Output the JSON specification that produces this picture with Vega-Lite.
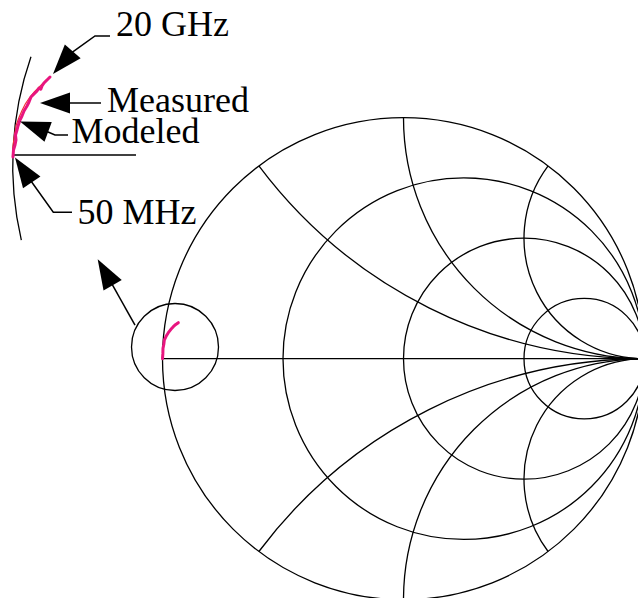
{
  "$schema": "https://vega.github.io/schema/vega-lite/v6.json",
  "width": 638,
  "height": 598,
  "autosize": {"type": "none"},
  "padding": 0,
  "background": "white",
  "config": {"view": {"stroke": null}},
  "datasets": {
    "grid": [
      {"name": "r=0", "cx": 0, "cy": 0, "r": 1, "t0": 0, "t1": 360},
      {"name": "r=1/3", "cx": 0.25, "cy": 0, "r": 0.75, "t0": 0, "t1": 360},
      {"name": "r=1", "cx": 0.5, "cy": 0, "r": 0.5, "t0": 0, "t1": 360},
      {"name": "r=3", "cx": 0.75, "cy": 0, "r": 0.25, "t0": 0, "t1": 360},
      {"name": "x=0.5", "cx": 1, "cy": 2, "r": 2, "t0": 180, "t1": 233.13},
      {"name": "x=-0.5", "cx": 1, "cy": -2, "r": 2, "t0": -53.13, "t1": 0},
      {"name": "x=1", "cx": 1, "cy": 1, "r": 1, "t0": 180, "t1": 270},
      {"name": "x=-1", "cx": 1, "cy": -1, "r": 1, "t0": -90, "t1": 0},
      {"name": "x=2", "cx": 1, "cy": 0.5, "r": 0.5, "t0": 180, "t1": 306.87},
      {"name": "x=-2", "cx": 1, "cy": -0.5, "r": 0.5, "t0": -126.87, "t1": 0},
      {"name": "inset", "cx": -0.9481, "cy": 0.0485, "r": 0.1805, "t0": 0, "t1": 360},
      {"name": "enlarged r=0", "cx": -0.2523, "cy": 0.8037, "r": 1.3693, "t0": -103.14, "t1": -70.84}
    ],
    "axisline": [
      {"x": -1, "x2": 1, "y": 0},
      {"x": -1.6216, "x2": -1.11, "y": 0.8452}
    ],
    "curves": [
      {"view": "main", "series": "Measured", "x": -1.0, "y": 0.0},
      {"view": "main", "series": "Measured", "x": -0.9985, "y": 0.02},
      {"view": "main", "series": "Measured", "x": -0.998, "y": 0.043},
      {"view": "main", "series": "Measured", "x": -0.9945, "y": 0.06},
      {"view": "main", "series": "Measured", "x": -0.9925, "y": 0.0776},
      {"view": "main", "series": "Measured", "x": -0.985, "y": 0.093},
      {"view": "main", "series": "Measured", "x": -0.9759, "y": 0.1079},
      {"view": "main", "series": "Measured", "x": -0.966, "y": 0.121},
      {"view": "main", "series": "Measured", "x": -0.9552, "y": 0.1328},
      {"view": "main", "series": "Measured", "x": -0.945, "y": 0.142},
      {"view": "main", "series": "Measured", "x": -0.9344, "y": 0.1494},
      {"view": "main", "series": "Modeled", "x": -1.0, "y": 0.0},
      {"view": "main", "series": "Modeled", "x": -0.998, "y": 0.04},
      {"view": "main", "series": "Modeled", "x": -0.993, "y": 0.075},
      {"view": "main", "series": "Modeled", "x": -0.977, "y": 0.106},
      {"view": "main", "series": "Modeled", "x": -0.956, "y": 0.131},
      {"view": "main", "series": "Modeled", "x": -0.935, "y": 0.148},
      {"view": "zoom", "series": "Measured", "x": -1.6203, "y": 0.8369},
      {"view": "zoom", "series": "Measured", "x": -1.6183, "y": 0.866},
      {"view": "zoom", "series": "Measured", "x": -1.612, "y": 0.8867},
      {"view": "zoom", "series": "Measured", "x": -1.6079, "y": 0.9075},
      {"view": "zoom", "series": "Measured", "x": -1.61, "y": 0.9282},
      {"view": "zoom", "series": "Measured", "x": -1.6037, "y": 0.949},
      {"view": "zoom", "series": "Measured", "x": -1.5996, "y": 0.9656},
      {"view": "zoom", "series": "Measured", "x": -1.5913, "y": 0.9905},
      {"view": "zoom", "series": "Measured", "x": -1.583, "y": 1.0071},
      {"view": "zoom", "series": "Measured", "x": -1.5747, "y": 1.0278},
      {"view": "zoom", "series": "Measured", "x": -1.5622, "y": 1.0485},
      {"view": "zoom", "series": "Measured", "x": -1.5539, "y": 1.0651},
      {"view": "zoom", "series": "Measured", "x": -1.5456, "y": 1.0859},
      {"view": "zoom", "series": "Measured", "x": -1.5332, "y": 1.0983},
      {"view": "zoom", "series": "Measured", "x": -1.5207, "y": 1.1108},
      {"view": "zoom", "series": "Measured", "x": -1.5124, "y": 1.1232},
      {"view": "zoom", "series": "Measured", "x": -1.505, "y": 1.118},
      {"view": "zoom", "series": "Measured", "x": -1.5, "y": 1.1315},
      {"view": "zoom", "series": "Measured", "x": -1.4917, "y": 1.144},
      {"view": "zoom", "series": "Measured", "x": -1.4834, "y": 1.1523},
      {"view": "zoom", "series": "Measured", "x": -1.4751, "y": 1.1606},
      {"view": "zoom", "series": "Measured", "x": -1.4668, "y": 1.1689},
      {"view": "zoom", "series": "Modeled", "x": -1.6226, "y": 0.8369},
      {"view": "zoom", "series": "Modeled", "x": -1.6203, "y": 0.8826},
      {"view": "zoom", "series": "Modeled", "x": -1.6145, "y": 0.9282},
      {"view": "zoom", "series": "Modeled", "x": -1.6067, "y": 0.9697},
      {"view": "zoom", "series": "Modeled", "x": -1.5964, "y": 0.9988},
      {"view": "zoom", "series": "Modeled", "x": -1.5839, "y": 1.0278},
      {"view": "zoom", "series": "Modeled", "x": -1.5694, "y": 1.0568},
      {"view": "zoom", "series": "Modeled", "x": -1.5528, "y": 1.0817},
      {"view": "zoom", "series": "Modeled", "x": -1.532, "y": 1.1066},
      {"view": "zoom", "series": "Modeled", "x": -1.5071, "y": 1.1315},
      {"view": "zoom", "series": "Modeled", "x": -1.4823, "y": 1.1564}
    ],
    "leaders": [
      {"leader": "20 GHz", "x": -1.2178, "y": 1.339},
      {"leader": "20 GHz", "x": -1.2801, "y": 1.339},
      {"leader": "20 GHz", "x": -1.378, "y": 1.2689},
      {"leader": "Measured", "x": -1.2552, "y": 1.061},
      {"leader": "Measured", "x": -1.3838, "y": 1.061},
      {"leader": "Modeled", "x": -1.3921, "y": 0.9282},
      {"leader": "Modeled", "x": -1.4461, "y": 0.9282},
      {"leader": "Modeled", "x": -1.4822, "y": 0.944},
      {"leader": "50 MHz", "x": -1.3755, "y": 0.6075},
      {"leader": "50 MHz", "x": -1.4531, "y": 0.6075},
      {"leader": "50 MHz", "x": -1.5539, "y": 0.7485},
      {"leader": "inset", "x": -1.1141, "y": 0.1398},
      {"leader": "inset", "x": -1.2095, "y": 0.3091}
    ],
    "arrows": [
      {"arrow": "20 GHz", "x": -1.4544, "y": 1.1813, "heading": 221.2},
      {"arrow": "Measured", "x": -1.5083, "y": 1.061, "heading": 270},
      {"arrow": "Modeled", "x": -1.5913, "y": 0.9842, "heading": 290.3},
      {"arrow": "50 MHz", "x": -1.612, "y": 0.8349, "heading": 326.1},
      {"arrow": "inset", "x": -1.2689, "y": 0.4124, "heading": 330.1}
    ],
    "labels": [
      {"text": "20 GHz", "x": -1.1929, "y": 1.339},
      {"text": "Measured", "x": -1.2302, "y": 1.0249},
      {"text": "Modeled", "x": -1.3775, "y": 0.8938},
      {"text": "50 MHz", "x": -1.3526, "y": 0.5589}
    ]
  },
  "encoding": {
    "x": {"type": "quantitative", "axis": null, "scale": {"domain": [-1.67427, 0.97303], "nice": false, "zero": false}},
    "y": {"type": "quantitative", "axis": null, "scale": {"domain": [-0.99295, 1.48838], "nice": false, "zero": false}}
  },
  "layer": [
    {
      "data": {"name": "grid"},
      "mark": {"type": "arc", "filled": false, "stroke": "black", "strokeWidth": 1.3},
      "encoding": {
        "x": {"field": "cx", "type": "quantitative"},
        "y": {"field": "cy", "type": "quantitative"},
        "theta": {"field": "t0", "type": "quantitative", "stack": null, "scale": {"type": "linear", "domain": [0, 360], "range": [0, 6.283185307179586], "zero": false, "nice": false}},
        "theta2": {"field": "t1"},
        "radius": {"field": "r", "type": "quantitative", "scale": {"type": "linear", "domain": [0, 1], "range": [0, 241], "nice": false}},
        "radius2": {"field": "r"}
      }
    },
    {
      "data": {"name": "axisline"},
      "mark": {"type": "rule", "stroke": "black", "strokeWidth": 1.3},
      "encoding": {
        "x": {"field": "x", "type": "quantitative"},
        "x2": {"field": "x2"},
        "y": {"field": "y", "type": "quantitative"}
      }
    },
    {
      "data": {"name": "curves"},
      "transform": [{"filter": "datum.series === 'Modeled'"}],
      "mark": {"type": "line", "strokeWidth": 1.2},
      "encoding": {
        "x": {"field": "x", "type": "quantitative"},
        "y": {"field": "y", "type": "quantitative"},
        "detail": {"field": "view"},
        "order": {"value": null},
        "color": {"field": "series", "type": "nominal", "legend": null, "scale": {"domain": ["Measured", "Modeled"], "range": ["#E8157F", "#F2303A"]}}
      }
    },
    {
      "data": {"name": "curves"},
      "transform": [{"filter": "datum.series === 'Measured'"}],
      "mark": {"type": "line", "strokeWidth": 3, "strokeJoin": "round", "strokeCap": "round"},
      "encoding": {
        "x": {"field": "x", "type": "quantitative"},
        "y": {"field": "y", "type": "quantitative"},
        "detail": {"field": "view"},
        "order": {"value": null},
        "color": {"field": "series", "type": "nominal", "legend": null}
      }
    },
    {
      "data": {"name": "leaders"},
      "mark": {"type": "line", "stroke": "black", "strokeWidth": 1.5},
      "encoding": {
        "x": {"field": "x", "type": "quantitative"},
        "y": {"field": "y", "type": "quantitative"},
        "detail": {"field": "leader"},
        "order": {"value": null}
      }
    },
    {
      "data": {"name": "arrows"},
      "mark": {"type": "point", "shape": "M0,0L-0.7,2L0.7,2Z", "filled": true, "fill": "black", "stroke": null, "size": 900, "opacity": 1},
      "encoding": {
        "x": {"field": "x", "type": "quantitative"},
        "y": {"field": "y", "type": "quantitative"},
        "angle": {"field": "heading", "type": "quantitative", "scale": {"domain": [0, 360], "range": [0, 360]}}
      }
    },
    {
      "data": {"name": "labels"},
      "mark": {"type": "text", "font": "Liberation Serif", "fontSize": 36, "align": "left", "baseline": "alphabetic", "color": "black"},
      "encoding": {
        "x": {"field": "x", "type": "quantitative"},
        "y": {"field": "y", "type": "quantitative"},
        "text": {"field": "text"}
      }
    }
  ]
}
